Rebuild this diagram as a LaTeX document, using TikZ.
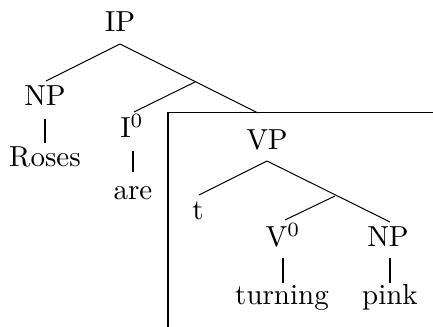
\documentclass[tikz,border=0pt]{standalone}
\begin{document}
\begin{tikzpicture}[x=0.345pt,y=-0.345pt,
  lab/.style={anchor=base,inner sep=0pt,font=\fontsize{10}{12}\selectfont},
  edge/.style={line width=0.35pt}]
\useasboundingbox (0,0) rectangle (433,327);
% labels
\node[lab] (IP) at (120,32) {IP};
\node[lab] (NP1) at (45,106) {NP};
\node[lab] (Roses) at (45,167) {Roses};
\node[lab] (I0) at (132,138) {I$^0$};
\node[lab] (are) at (133,200) {are};
\node[lab] (VP) at (267,150) {VP};
\node[lab] (t) at (198,220) {t};
\node[lab] (V0) at (283,247) {V$^0$};
\node[lab] (NP2) at (388,247) {NP};
\node[lab] (turning) at (282,305) {turning};
\node[lab] (pink) at (390,305) {pink};
% edge endpoints
\coordinate (ipb) at (120,44);
\coordinate (np1t) at (46,81);
\coordinate (ibar) at (195,82);
\coordinate (i0t) at (134,112);
\coordinate (vpt) at (258,113);
\coordinate (np1b) at (45,119);
\coordinate (rosest) at (45,143);
\coordinate (i0b) at (133,151);
\coordinate (aret) at (133,172);
\coordinate (vpb) at (267,161);
\coordinate (tt) at (199,195);
\coordinate (vbar) at (335,196);
\coordinate (v0t) at (285,220);
\coordinate (np2t) at (390,222);
\coordinate (v0b) at (283,258);
\coordinate (turnt) at (283,283);
\coordinate (np2b) at (390,258);
\coordinate (pinkt) at (390,283);
% box
\coordinate (boxr) at (433,113);
\coordinate (boxc) at (168,113);
\coordinate (boxb) at (168,327);
\draw[edge] (boxr) -- (boxc) -- (boxb);
% edges
\draw[edge] (ipb) -- (np1t);
\draw[edge] (ipb) -- (vpt);
\draw[edge] (ibar) -- (i0t);
\draw[edge] (np1b) -- (rosest);
\draw[edge] (i0b) -- (aret);
\draw[edge] (vpb) -- (tt);
\draw[edge] (vpb) -- (np2t);
\draw[edge] (vbar) -- (v0t);
\draw[edge] (v0b) -- (turnt);
\draw[edge] (np2b) -- (pinkt);
\end{tikzpicture}
\end{document}
